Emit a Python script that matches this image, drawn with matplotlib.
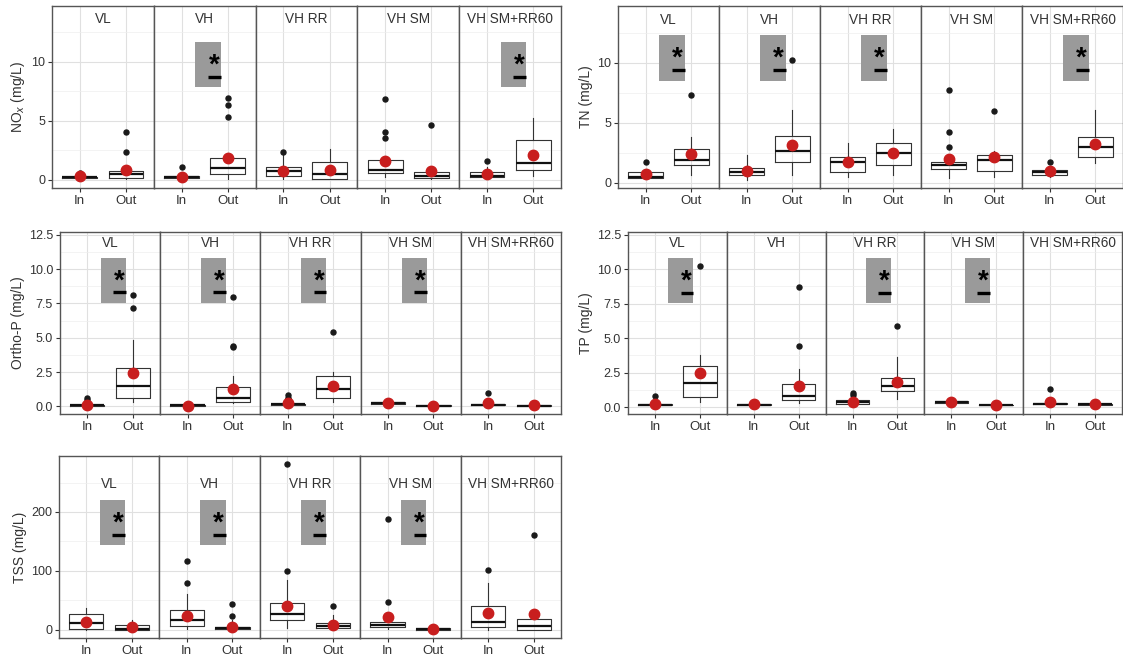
import matplotlib
matplotlib.use('Agg')
import matplotlib.pyplot as plt
import matplotlib.patches as mpatches
from matplotlib.ticker import MultipleLocator

plt.rcParams['font.family'] = ['Liberation Sans', 'DejaVu Sans']

FACETS = ['VL', 'VH', 'VH RR', 'VH SM', 'VH SM+RR60']
GROUPS = ['In', 'Out']

# (whislo, q1, median, q3, whishi, mean, outliers) -- In/Out for each facet in order
NOX_STATS = [
    (0.10, 0.15, 0.20, 0.25, 0.45, 0.30, [0.6]),
    (0.05, 0.15, 0.50, 0.70, 1.00, 0.80, [2.35, 4.0]),
    (0.05, 0.15, 0.25, 0.35, 0.60, 0.25, [1.1]),
    (0.10, 0.45, 1.00, 1.80, 2.30, 1.80, [5.3, 6.3, 6.9]),
    (0.10, 0.30, 0.75, 1.10, 2.10, 0.78, [2.35]),
    (0.05, 0.10, 0.50, 1.50, 2.60, 0.83, []),
    (0.20, 0.55, 0.85, 1.70, 2.05, 1.60, [3.5, 4.0, 6.8]),
    (0.05, 0.15, 0.35, 0.65, 0.80, 0.75, [4.6]),
    (0.10, 0.25, 0.35, 0.65, 1.10, 0.45, [1.6]),
    (0.30, 0.80, 1.40, 3.35, 5.20, 2.10, []),
]
TN_STATS = [
    (0.30, 0.40, 0.50, 0.85, 1.10, 0.73, [1.7]),
    (0.65, 1.50, 1.90, 2.80, 3.85, 2.37, [7.3]),
    (0.20, 0.65, 0.85, 1.25, 2.30, 0.98, []),
    (0.65, 1.75, 2.65, 3.90, 6.10, 3.15, [10.2]),
    (0.50, 0.92, 1.68, 2.12, 3.30, 1.68, []),
    (0.65, 1.50, 2.50, 3.35, 4.50, 2.45, []),
    (0.35, 1.12, 1.50, 1.75, 2.20, 2.00, [3.0, 4.2, 7.7]),
    (0.50, 1.00, 1.90, 2.30, 2.65, 2.10, [6.0]),
    (0.50, 0.67, 0.90, 1.05, 1.30, 0.95, [1.7]),
    (1.60, 2.10, 2.95, 3.85, 6.10, 3.25, []),
]
OP_STATS = [
    (0.02, 0.06, 0.10, 0.12, 0.30, 0.12, [0.5, 0.6]),
    (0.30, 0.60, 1.50, 2.78, 4.85, 2.44, [7.2, 8.1]),
    (0.02, 0.05, 0.08, 0.10, 0.25, 0.05, []),
    (0.25, 0.30, 0.60, 1.45, 2.20, 1.27, [4.3, 4.4, 8.0]),
    (0.05, 0.10, 0.15, 0.20, 0.40, 0.22, [0.55, 0.65, 0.8]),
    (0.35, 0.60, 1.25, 2.20, 2.50, 1.50, [5.4]),
    (0.15, 0.20, 0.25, 0.32, 0.35, 0.24, []),
    (0.02, 0.04, 0.05, 0.07, 0.10, 0.05, []),
    (0.05, 0.10, 0.12, 0.15, 0.30, 0.22, [1.0]),
    (0.02, 0.04, 0.05, 0.07, 0.10, 0.08, []),
]
TP_STATS = [
    (0.10, 0.15, 0.18, 0.20, 0.40, 0.24, [0.8]),
    (0.35, 0.72, 1.75, 2.95, 3.75, 2.45, [10.2]),
    (0.10, 0.15, 0.18, 0.20, 0.45, 0.19, []),
    (0.30, 0.50, 0.80, 1.65, 2.80, 1.50, [4.4, 8.7]),
    (0.15, 0.25, 0.35, 0.48, 0.60, 0.36, [0.85, 1.05]),
    (0.60, 1.17, 1.50, 2.10, 3.60, 1.80, [5.85]),
    (0.30, 0.33, 0.40, 0.45, 0.50, 0.36, []),
    (0.10, 0.13, 0.15, 0.17, 0.20, 0.17, []),
    (0.10, 0.20, 0.25, 0.30, 0.60, 0.36, [1.3]),
    (0.15, 0.18, 0.20, 0.22, 0.25, 0.24, []),
]
TSS_STATS = [
    (0.0, 1.5, 11.0, 27.0, 37.0, 14.0, []),
    (0.0, 0.0, 1.5, 8.5, 16.0, 4.0, []),
    (1.0, 7.0, 17.0, 34.0, 60.0, 24.0, [79, 116]),
    (1.0, 1.5, 3.0, 5.5, 17.0, 5.5, [24, 44]),
    (3.0, 17.0, 26.0, 46.0, 84.0, 40.0, [100, 281]),
    (1.0, 3.0, 7.0, 11.0, 25.0, 8.5, [41]),
    (1.0, 4.0, 7.5, 13.0, 23.0, 21.0, [47, 188]),
    (0.0, 0.0, 1.5, 3.0, 5.0, 1.7, []),
    (0.0, 4.5, 14.0, 40.0, 79.0, 28.0, [102]),
    (0.0, 0.0, 7.0, 17.5, 25.0, 26.0, [161]),
]

# facets with a significant In/Out difference, and the level of the marker
NOX_SIG, NOX_SIG_Y = ['VH', 'VH SM+RR60'], 8.7
TN_SIG, TN_SIG_Y = ['VL', 'VH', 'VH RR', 'VH SM+RR60'], 9.4
OP_SIG, OP_SIG_Y = ['VL', 'VH', 'VH RR', 'VH SM'], 8.3
TP_SIG, TP_SIG_Y = ['VL', 'VH RR', 'VH SM'], 8.3
TSS_SIG, TSS_SIG_Y = ['VL', 'VH', 'VH RR', 'VH SM'], 161

W, H = 1123, 658
fig = plt.figure(figsize=(W / 100, H / 100), dpi=100)
fig.patch.set_facecolor('white')

EDGE = '#333333'
MEAN_RED = '#c81e1e'


def to_bxp(row):
    lo, q1, med, q3, hi, mean, fl = row
    return dict(whislo=lo, q1=q1, med=med, q3=q3, whishi=hi, mean=mean, fliers=fl)


def panel(box, stats, ylim, major, label_y, ylabel, sig, sig_y):
    left, right, top, bottom = box
    w = (right - left) / len(FACETS)
    yr = ylim[1] - ylim[0]
    for i, facet in enumerate(FACETS):
        ax = fig.add_axes([(left + i * w) / W, 1 - bottom / H, w / W, (bottom - top) / H])
        ax.set_xlim(0.4, 2.6)
        ax.set_ylim(*ylim)
        ax.yaxis.set_major_locator(MultipleLocator(major))
        ax.yaxis.set_minor_locator(MultipleLocator(major / 2))
        ax.grid(which='major', color='#e0e0e0', lw=0.8)
        ax.grid(which='minor', axis='y', color='#eeeeee', lw=0.5)
        ax.set_axisbelow(True)
        for s in ax.spines.values():
            s.set_color('#555555')
            s.set_linewidth(1.0)

        if facet in sig:
            ax.add_patch(mpatches.Rectangle((1.3, sig_y - 0.058 * yr), 0.55, 0.248 * yr,
                                            facecolor='#9a9a9a', edgecolor='none', zorder=1.5))
            ax.plot([1.57, 1.85], [sig_y, sig_y], color='black', lw=2.4,
                    solid_capstyle='butt', zorder=1.6)
            ax.text(1.7, sig_y + 0.062 * yr, '*', fontsize=20, fontweight='bold',
                    ha='center', va='center', color='black', zorder=1.7)

        bstats = [to_bxp(stats[2 * i]), to_bxp(stats[2 * i + 1])]
        ax.bxp(bstats, positions=[1, 2], widths=0.75, showmeans=True, showcaps=False,
               manage_ticks=False,
               boxprops=dict(color=EDGE, lw=0.8),
               whiskerprops=dict(color=EDGE, lw=0.8),
               medianprops=dict(color='#111111', lw=1.6),
               flierprops=dict(marker='o', markerfacecolor='#1a1a1a', markeredgecolor='#1a1a1a',
                               markersize=3.6),
               meanprops=dict(marker='o', markerfacecolor=MEAN_RED, markeredgecolor=MEAN_RED,
                              markersize=7.5, zorder=4))

        ax.text(1.5, label_y, facet, ha='center', va='center', fontsize=9.8, color='#333333')

        ax.set_xticks([1, 2])
        ax.set_xticklabels(GROUPS)
        ax.tick_params(axis='x', colors='#333333', labelsize=9.5, length=3, width=0.8,
                       labelcolor='#333333', pad=2)
        ax.tick_params(axis='y', which='minor', left=False)
        if i == 0:
            ax.tick_params(axis='y', colors='#333333', labelsize=9, length=3, width=0.8, pad=2)
            ax.set_ylabel(ylabel, fontsize=10, color='#333333', labelpad=3)
        else:
            ax.tick_params(axis='y', which='both', left=False, labelleft=False)


panel((52, 561, 6, 188), NOX_STATS, (-0.7, 14.7), 5, 13.6, r'NO$_x$ (mg/L)', NOX_SIG, NOX_SIG_Y)
panel((618, 1123, 6, 188), TN_STATS, (-0.45, 14.75), 5, 13.6, 'TN (mg/L)', TN_SIG, TN_SIG_Y)
panel((60, 561, 232, 414), OP_STATS, (-0.55, 12.7), 2.5, 11.9, 'Ortho-P (mg/L)', OP_SIG, OP_SIG_Y)
panel((628, 1122, 232, 414), TP_STATS, (-0.5, 12.7), 2.5, 11.9, 'TP (mg/L)', TP_SIG, TP_SIG_Y)
panel((59, 561, 456, 638), TSS_STATS, (-14, 295), 100, 248, 'TSS (mg/L)', TSS_SIG, TSS_SIG_Y)

fig.savefig('out.png', dpi=100, facecolor='white')
